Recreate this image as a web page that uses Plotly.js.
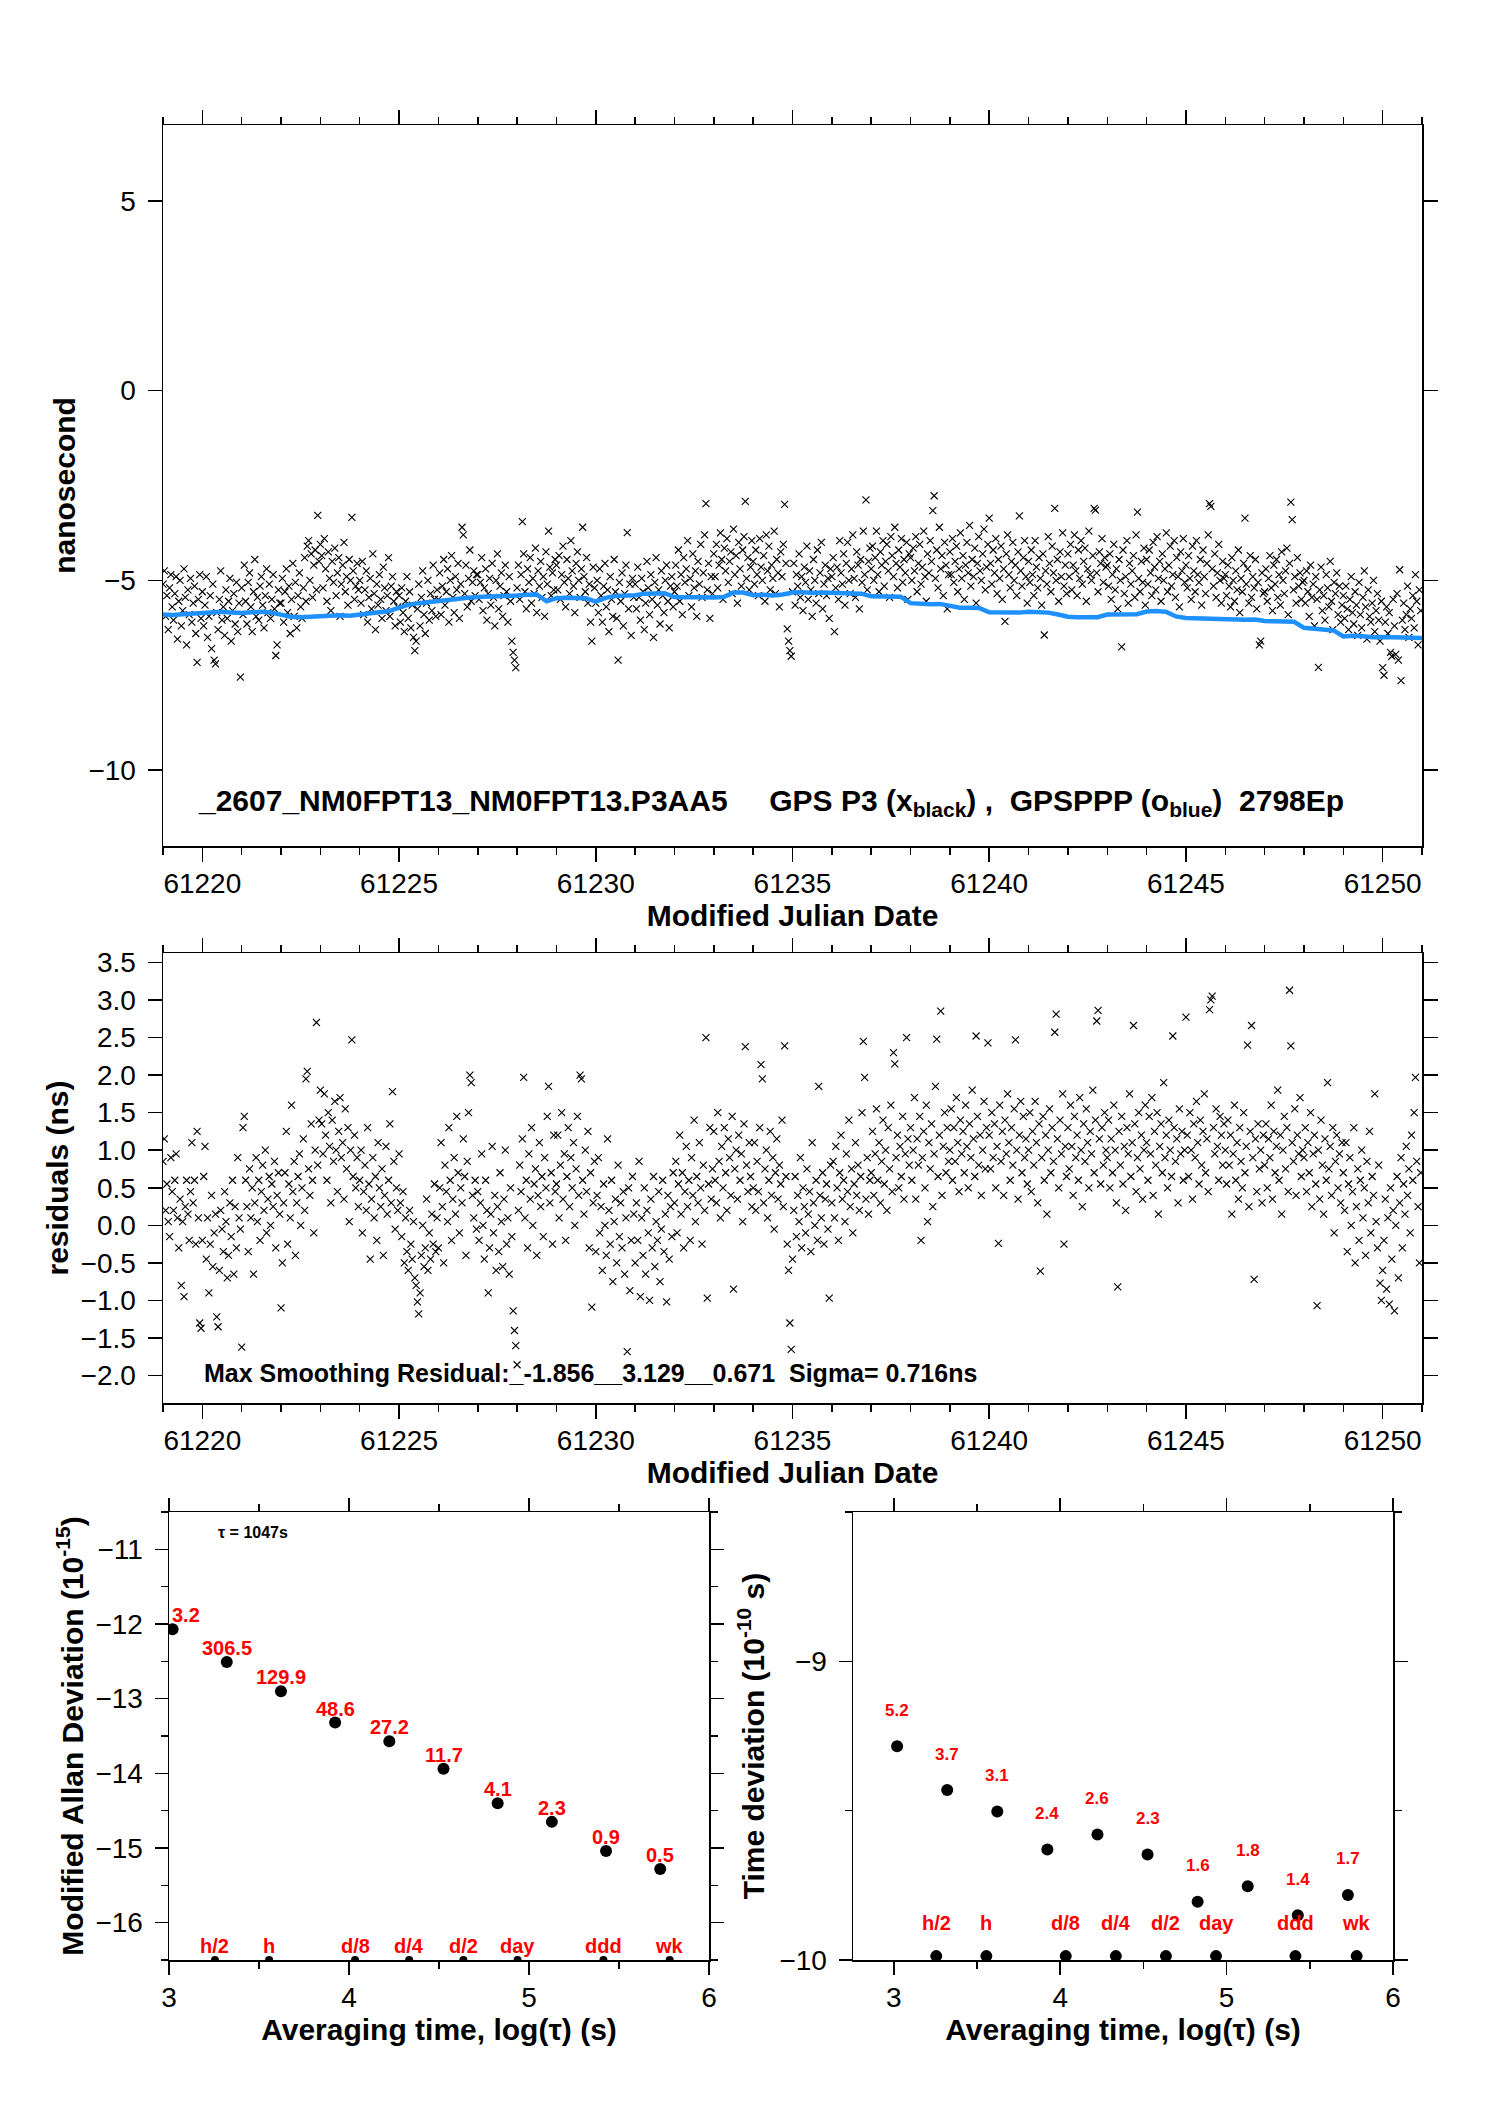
<!DOCTYPE html>
<html>
<head>
<meta charset="utf-8">
<script src="https://cdn.plot.ly/plotly-3.0.1.min.js"></script>
<style>
  body { margin: 0; background: #fff; }
  #chart { width: 1488px; height: 2105px; }
</style>
</head>
<body>
<div id="chart"></div>
<script>
// ---- time series (one line per day, 30 samples a day) ----
var mjdStart = 61219.0;
var perDay = 30;

// GPS P3 clock offsets, ns (black x)
var gpsP3 = [
  -5.1, -4.75, -5.95, -5.4, -6.3, -5.2, -4.85, -5.7, -6.05, -5.35, -4.9, -6.55, -5.55, -5.0, -6.2, -5.8, -4.7, -5.45, -6.7, -5.25, -5.9, -4.95, -6.1, -5.6, -5.15, -6.4, -7.16, -5.5, -4.85, -6.0,
  -5.3, -6.2, -5.65, -4.9, -6.5, -5.95, -5.4, -6.8, -5.1, -7.1, -7.2, -5.85, -6.3, -5.5, -4.75, -6.05, -5.7, -6.45, -5.25, -6.0, -5.55, -4.95, -6.6, -5.8, -5.35, -6.15, -5.05, -6.35, -5.6, -7.55,
  -5.2, -5.9, -4.6, -5.55, -6.15, -5.05, -4.8, -5.7, -6.35, -5.3, -4.45, -5.95, -5.45, -6.05, -5.15, -4.9, -5.65, -6.25, -5.4, -4.7, -5.85, -5.1, -6.0, -5.5, -4.85, -5.75, -6.98, -6.7, -5.25, -5.6,
  -5.6, -4.95, -6.1, -5.3, -4.7, -5.85, -5.15, -6.4, -5.5, -4.55, -5.95, -5.05, -6.25, -5.4, -4.8, -5.7, -6.0, -5.2, -4.4, -5.55, -4.1, -3.95, -5.0, -4.3, -5.45, -4.6, -4.2, -5.25, -3.29, -4.5,
  -4.05, -4.35, -5.2, -3.9, -4.7, -5.55, -4.25, -4.95, -5.8, -4.5, -5.05, -4.15, -5.4, -4.8, -4.4, -5.95, -5.1, -4.6, -4.0, -5.3, -4.9, -5.65, -4.45, -5.0, -3.34, -4.75, -5.5, -5.15, -4.55, -5.25,
  -5.0, -5.6, -4.5, -5.9, -5.25, -4.75, -6.1, -5.45, -4.95, -5.75, -4.3, -5.35, -6.3, -5.1, -5.65, -4.85, -5.5, -6.0, -4.65, -5.2, -5.8, -5.4, -4.4, -5.95, -5.15, -4.9, -5.55, -6.2, -5.3, -5.7,
  -5.4, -6.1, -5.2, -5.85, -6.35, -5.55, -4.9, -6.0, -5.3, -6.25, -5.65, -6.5, -6.85, -6.6, -5.75, -5.1, -6.2, -5.45, -4.75, -5.9, -6.4, -5.6, -5.0, -6.05, -5.35, -5.8, -4.6, -5.5, -5.95, -5.25,
  -5.5, -4.8, -5.9, -5.15, -4.45, -5.65, -5.3, -4.7, -6.1, -5.0, -4.35, -5.45, -5.85, -4.9, -5.25, -4.55, -6.0, -5.1, -3.6, -3.8, -5.35, -4.6, -5.7, -4.95, -4.2, -5.55, -5.05, -4.75, -5.4, -4.85,
  -4.85, -5.5, -5.05, -4.4, -5.8, -5.2, -4.7, -6.05, -5.35, -4.95, -5.65, -4.55, -5.45, -6.2, -5.0, -4.3, -5.75, -5.15, -4.8, -5.95, -5.4, -4.6, -5.3, -6.1, -4.9, -5.55, -6.6, -6.9, -7.1, -7.3,
  -5.2, -4.6, -5.5, -4.85, -3.45, -4.3, -5.3, -5.75, -4.7, -5.05, -4.4, -5.6, -4.95, -5.35, -4.15, -5.85, -4.75, -5.15, -4.5, -5.45, -4.9, -5.95, -4.25, -5.1, -3.7, -4.65, -5.4, -4.8, -5.25, -4.45,
  -4.6, -5.25, -4.35, -5.5, -4.85, -4.1, -5.05, -5.7, -4.45, -4.95, -5.35, -3.95, -4.75, -5.15, -5.85, -4.55, -4.25, -5.0, -5.45, -4.7, -3.6, -4.9, -5.3, -4.4, -5.6, -5.1, -6.1, -6.6, -4.65, -5.2,
  -5.6, -5.0, -5.85, -4.7, -5.4, -6.1, -5.15, -4.55, -5.7, -5.25, -6.35, -4.9, -5.5, -5.95, -4.45, -5.3, -6.0, -7.1, -5.05, -5.55, -4.8, -6.2, -5.35, -4.6, -3.74, -5.75, -5.1, -6.45, -4.95, -5.45,
  -5.1, -5.75, -4.65, -5.45, -6.05, -4.95, -5.3, -6.3, -5.6, -4.5, -5.2, -5.9, -4.85, -5.5, -6.5, -5.05, -4.4, -5.65, -5.25, -6.15, -4.75, -5.4, -5.85, -5.0, -4.6, -5.55, -6.25, -5.15, -4.9, -5.7,
  -5.3, -4.6, -5.15, -4.2, -5.55, -4.85, -5.9, -4.4, -5.05, -4.7, -3.95, -5.4, -4.95, -5.7, -4.3, -5.2, -4.75, -5.95, -4.5, -5.1, -4.05, -5.45, -4.8, -3.8, -2.98, -5.25, -4.55, -6.0, -4.9, -5.35,
  -4.3, -4.9, -4.05, -5.2, -4.6, -3.75, -4.45, -5.5, -4.15, -4.75, -3.9, -5.05, -4.5, -4.25, -5.35, -3.65, -4.85, -4.35, -5.6, -4.0, -4.7, -5.15, -4.2, -3.85, -2.92, -4.95, -4.4, -5.25, -4.65, -3.95,
  -4.5, -5.1, -4.2, -4.85, -5.4, -3.9, -4.65, -5.0, -4.35, -5.55, -3.8, -4.75, -4.1, -5.25, -4.6, -4.95, -3.7, -5.35, -4.45, -4.8, -5.7, -4.25, -4.9, -4.05, -3.0, -4.55, -6.28, -6.6, -6.85, -7.0,
  -5.3, -4.55, -5.65, -4.85, -5.15, -4.3, -5.45, -4.9, -5.8, -4.65, -5.05, -4.1, -5.5, -4.75, -5.25, -5.95, -4.45, -5.0, -5.6, -4.2, -5.35, -4.8, -4.0, -5.75, -5.1, -4.6, -5.4, -4.95, -6.0, -4.7,
  -4.9, -4.4, -6.35, -5.2, -4.65, -5.5, -3.95, -4.8, -5.1, -4.3, -5.65, -4.55, -4.0, -5.0, -5.35, -4.7, -3.8, -4.95, -5.45, -4.25, -4.6, -5.75, -4.45, -5.05, -3.7, -4.85, -2.88, -5.25, -4.5, -4.15,
  -4.7, -4.1, -5.0, -4.4, -3.7, -4.85, -5.3, -4.25, -4.6, -3.95, -5.15, -4.5, -4.05, -4.75, -5.45, -3.85, -4.35, -4.9, -3.6, -4.55, -5.2, -4.2, -4.65, -3.9, -5.05, -4.45, -4.8, -4.0, -5.5, -4.3,
  -4.4, -5.0, -4.15, -4.75, -3.85, -5.3, -4.55, -4.05, -5.1, -4.65, -3.7, -4.9, -5.55, -4.3, -4.8, -3.95, -4.5, -3.16, -2.77, -4.95, -4.2, -5.2, -3.6, -4.7, -4.35, -5.4, -4.0, -4.6, -5.75, -4.85,
  -4.25, -4.85, -3.9, -5.05, -4.5, -4.1, -5.3, -4.7, -3.75, -4.95, -4.35, -5.5, -4.6, -4.0, -4.8, -3.55, -5.15, -4.45, -4.9, -4.15, -5.6, -4.55, -3.85, -4.75, -5.0, -4.3, -3.65, -5.25, -4.65, -4.05,
  -3.36, -4.55, -5.1, -4.2, -4.8, -3.9, -5.35, -4.45, -4.95, -4.1, -5.5, -4.7, -6.08, -4.3, -3.8, -4.85, -5.2, -4.5, -4.0, -5.0, -4.6, -5.4, -4.25, -3.3, -4.75, -5.15, -4.4, -3.95, -4.9, -5.6,
  -4.5, -5.05, -4.2, -4.85, -5.4, -3.95, -4.65, -5.2, -4.4, -4.95, -5.65, -4.3, -6.44, -4.75, -5.1, -3.85, -4.55, -5.3, -4.1, -4.8, -3.1, -5.0, -4.45, -5.55, -4.25, -4.9, -3.75, -5.15, -4.6, -5.35,
  -4.3, -4.9, -4.05, -5.25, -4.6, -3.8, -4.75, -5.4, -4.2, -4.95, -3.95, -5.1, -4.5, -4.15, -5.55, -4.7, -3.7, -4.85, -5.0, -4.35, -3.1, -3.15, -4.8, -5.3, -4.25, -4.55, -3.9, -5.05, -4.4, -4.65,
  -4.6, -5.15, -4.3, -5.5, -4.85, -4.05, -5.25, -4.7, -5.75, -4.45, -5.0, -6.75, -4.2, -5.35, -4.9, -3.95, -5.6, -4.55, -5.1, -4.75, -4.35, -5.45, -3.8, -3.2, -4.95, -5.3, -4.5, -5.05, -4.15, -5.65,
  -4.45, -5.1, -4.2, -4.8, -5.4, -4.0, -4.65, -5.25, -3.85, -4.95, -4.5, -5.55, -4.3, -5.0, -4.7, -3.75, -5.3, -4.6, -4.1, -5.15, -4.85, -3.95, -5.45, -4.4, -4.9, -5.7, -4.25, -4.75, -3.9, -5.05,
  -4.6, -5.2, -4.35, -4.95, -5.5, -4.1, -4.75, -5.3, -3.95, -4.85, -5.05, -4.45, -5.65, -4.2, -4.9, -5.35, -4.55, -3.8, -2.98, -3.05, -4.7, -5.15, -4.3, -5.45, -4.8, -4.05, -5.0, -5.6, -4.5, -4.95,
  -4.85, -5.4, -4.6, -5.15, -5.7, -4.4, -5.0, -5.55, -4.75, -5.25, -4.2, -5.85, -4.95, -5.3, -4.55, -3.36, -5.1, -4.7, -5.6, -4.35, -5.45, -4.9, -5.2, -4.45, -5.75, -5.05, -6.7, -6.6, -4.8, -5.35,
  -5.3, -4.7, -5.55, -4.95, -4.35, -5.2, -5.8, -4.6, -5.1, -4.45, -5.45, -4.85, -5.65, -4.25, -5.0, -5.35, -4.75, -4.15, -5.9, -4.55, -2.94, -3.4, -5.25, -4.9, -5.6, -4.4, -5.15, -4.8, -5.5, -5.05,
  -5.0, -5.6, -4.75, -5.3, -5.95, -4.6, -5.45, -5.1, -6.2, -4.9, -5.5, -7.29, -5.25, -4.65, -5.8, -5.4, -6.05, -4.85, -5.2, -5.7, -4.5, -5.55, -6.3, -5.05, -5.35, -4.8, -5.9, -5.15, -6.1, -5.65,
  -5.4, -6.0, -5.15, -5.75, -6.3, -5.5, -4.9, -5.85, -6.15, -5.3, -5.65, -6.45, -5.05, -5.9, -6.25, -5.45, -4.75, -5.7, -6.55, -5.25, -5.95, -6.1, -5.6, -5.0, -6.35, -5.8, -5.35, -6.05, -6.6, -5.55,
  -7.3, -7.5, -6.1, -5.7, -6.4, -5.85, -6.9, -7.0, -5.5, -6.2, -6.95, -5.35, -7.1, -4.72, -7.64, -6.05, -5.6, -6.3, -5.9, -5.15, -6.5, -5.75, -6.0, -5.4, -6.25, -4.85, -5.55, -6.7, -5.25, -5.8
];

// smoothing residuals, ns (same epochs)
var residuals = [
  0.85, 1.15, 0.2, 0.55, 0.05, -0.15, 0.9, 0.45, 0.2, 0.6, 0.95, 0.1, -0.3, 0.35, -0.8, 0.05, -0.95, 0.25, 0.6, 0.15, -0.2, 0.45, 1.1, 0.3, 0.6, -0.25, 1.25, 0.1, -1.3, -1.37,
  -0.2, 0.65, 1.05, -0.45, 0.1, -0.9, -0.25, 0.4, -0.55, -0.1, 0.15, -1.22, -1.35, -0.6, 0.2, -0.05, -0.35, 0.45, 0.05, -0.7, -0.4, 0.3, -0.15, 0.6, -0.65, 0.25, -0.3, 0.9, 0.1, -0.05,
  -1.62, 1.3, 1.45, 0.6, 0.25, -0.35, 0.75, 0.1, 0.5, -0.65, 0.3, 0.9, 0.05, 0.6, -0.2, 0.45, 0.8, 0.2, 1.0, -0.1, 0.35, 0.65, 0.0, 0.55, 0.25, 0.85, -0.3, 0.4, 0.7, 0.15,
  -1.1, -0.5, 0.3, 0.7, 1.25, -0.25, 0.55, 0.1, 1.6, 0.45, 0.85, -0.4, 0.3, 0.65, 0.95, 0.0, 0.5, 1.15, 0.2, 1.95, 2.05, 0.75, 0.4, 1.35, 0.6, -0.1, 1.0, 2.7, 0.8, 1.4,
  1.8, 1.35, 0.95, 1.75, 1.2, 0.6, 1.5, 1.05, 0.3, 1.4, 0.85, 1.65, 1.0, 0.45, 1.25, 1.7, 0.9, 1.1, 0.35, 1.55, 0.75, 1.3, 0.05, 1.0, 2.47, 0.65, 1.2, 0.5, 0.9, 0.25,
  0.6, 1.0, -0.1, 0.45, 0.8, 0.2, 1.3, 0.55, -0.45, 0.35, 0.9, 0.1, 0.65, -0.2, 1.1, 0.5, 0.25, 0.75, -0.4, 0.4, 1.05, 0.15, 0.6, 1.35, 0.3, 1.78, 0.85, -0.05, 0.5, 0.2,
  0.95, 0.3, -0.15, 0.45, -0.5, 0.1, -0.35, -0.6, 0.2, -0.25, -0.45, 0.05, -0.7, -0.8, -1.02, -1.18, -0.9, -0.4, 0.0, -0.55, -0.3, 0.35, -0.6, -0.1, -0.45, 0.15, -0.25, 0.55, -0.35, 0.1,
  -0.3, 0.5, 1.1, 0.25, -0.5, 0.8, 0.45, 0.05, 1.3, 0.6, -0.2, 0.35, 0.9, 0.15, 1.45, 0.7, -0.1, 0.5, 0.3, 1.15, 0.65, -0.4, 0.85, 1.5, 2.0, 1.9, 0.4, 0.1, 0.6, -0.05,
  0.45, -0.2, 0.3, 0.95, 0.0, -0.45, 0.6, 0.2, -0.9, -0.3, 0.15, 1.05, -0.1, 0.4, -0.6, 0.25, -0.35, 0.7, 0.05, -0.55, 0.35, 1.0, -0.25, 0.1, -0.65, 0.5, -0.15, -1.14, -1.4, -1.6,
  -1.856, 0.2, 0.8, 0.45, 1.15, 1.97, 0.1, 0.6, -0.3, 0.95, 0.35, 1.3, 0.0, 0.55, 0.75, -0.4, 0.4, 1.1, 0.25, 0.65, -0.15, 0.9, 0.5, 1.45, 1.85, 0.3, 0.7, -0.25, 1.2, 0.45,
  0.55, 1.2, 0.1, 0.8, 1.5, 0.35, 0.95, -0.2, 0.65, 1.3, 0.25, 0.9, 0.5, 1.1, 0.0, 0.75, 1.45, 0.4, 2.0, 1.95, 0.6, 0.15, 1.0, 0.45, 1.25, -0.3, 0.7, -1.09, 0.3, 0.85,
  -0.35, 0.4, 0.9, -0.1, 0.25, -0.6, 0.55, 0.0, -0.4, 1.15, 0.2, -0.25, 0.6, -0.75, 0.05, 0.35, -0.5, 0.8, -0.15, 0.3, -0.3, 0.45, -0.65, 0.1, -1.68, 0.5, -0.87, -0.2, 0.65, 0.15,
  -0.5, 0.3, -0.2, 0.85, -0.95, 0.1, -0.4, 0.5, -0.65, 0.2, -0.1, -1.0, 0.35, -0.3, 0.65, -0.55, 0.05, -0.2, 0.45, -0.75, -0.05, 0.6, -0.35, 0.15, -1.02, 0.4, -0.45, 0.25, -0.15, 0.7,
  0.3, 0.85, -0.1, 0.55, 1.2, 0.15, 0.7, -0.3, 0.45, 1.05, 0.25, 0.6, -0.2, 0.9, 0.4, 1.4, 0.05, 0.65, 0.3, 1.1, 0.5, -0.25, 0.8, 0.2, 2.5, -0.97, 0.55, 1.3, 0.35, 0.75,
  1.25, 0.6, 0.3, 1.5, 0.85, 0.1, 1.05, 0.5, 1.3, 0.7, 0.2, 1.15, 0.9, 0.4, 1.45, -0.85, 0.75, 1.0, 0.35, 1.2, 0.6, 0.95, 0.05, 1.35, 2.38, 0.8, 0.45, 1.1, 0.65, 0.25,
  0.5, 1.1, 0.2, 0.85, 0.45, 1.3, 2.14, 1.95, 0.3, 0.75, 1.0, 0.1, 0.6, 1.25, 0.4, 0.9, -0.05, 0.7, 1.15, 0.35, 0.8, 0.55, 1.4, 0.25, 2.39, 0.65, -0.25, -0.6, -1.3, -1.65,
  -0.45, 0.2, 0.65, -0.15, 0.4, 0.05, 0.9, -0.3, 0.5, 0.25, -0.1, 0.75, 0.15, 0.45, -0.35, 1.1, 0.3, 0.0, 0.6, -0.2, 1.85, 0.4, 0.1, 0.7, -0.25, 0.35, 0.55, -0.05, -0.97, 0.8,
  0.3, 0.85, 0.1, 1.05, 0.5, -0.2, 0.7, 1.2, 0.35, 0.6, 0.05, 0.95, 0.45, 1.4, 0.25, 0.75, -0.1, 0.55, 1.1, 0.4, 0.8, 0.2, 0.65, 1.5, 2.45, 1.97, 0.35, 0.9, 0.15, 0.6,
  0.7, 1.25, 0.4, 0.95, 1.55, 0.6, 1.1, 0.3, 0.85, 1.4, 0.55, 1.0, 0.2, 1.3, 0.75, 1.6, 0.45, 2.3, 2.15, 0.9, 1.2, 0.5, 1.05, 0.65, 1.45, 0.35, 0.95, 2.5, 1.15, 0.8,
  1.3, 0.6, 1.0, 1.7, 0.35, 1.15, 0.8, 1.45, -0.2, 0.9, 1.25, 0.5, 1.6, 0.05, 1.1, 0.75, 1.35, 0.25, 0.95, 1.85, 2.48, 0.65, 1.2, 2.85, 0.4, 1.05, 1.5, 0.7, 1.3, 0.85,
  1.0, 1.55, 0.6, 1.3, 0.85, 1.7, 1.1, 0.45, 1.4, 0.95, 1.25, 0.7, 1.6, 1.05, 0.5, 1.35, 0.9, 1.8, 1.15, 0.65, 2.52, 1.45, 0.8, 1.2, 0.4, 1.0, 1.65, 0.75, 1.3, 2.43,
  1.2, 0.75, 1.5, 0.9, 1.35, 0.5, 1.05, -0.24, 1.6, 0.85, 1.25, 0.4, 1.4, 0.95, 1.75, 1.1, 0.6, 1.3, 0.8, 1.55, 2.47, 1.0, 0.35, 1.2, 1.65, 0.7, 1.45, 0.9, 1.15, 0.55,
  1.0, 1.5, 0.45, 1.25, 0.8, 1.65, 1.1, 0.3, 1.35, -0.61, 0.9, 1.45, 0.6, 1.2, 0.15, 1.0, 1.55, 0.7, 1.3, 0.85, 2.57, 2.81, 1.15, 0.5, 1.4, 0.95, 1.75, -0.25, 1.05, 0.65,
  1.3, 0.75, 1.6, 1.05, 0.4, 1.45, 0.9, 1.2, 0.6, 1.7, 1.0, 0.25, 1.35, 0.85, 1.55, 1.1, 0.5, 1.25, 0.95, 1.8, 0.7, 1.4, 2.72, 2.86, 1.15, 0.55, 1.3, 0.8, 1.5, 1.0,
  0.9, 1.4, 0.5, 1.15, 0.7, 1.6, 1.0, 0.3, -0.82, 1.25, 0.8, 1.45, 0.55, 1.05, 0.2, 1.3, 0.95, 1.75, 0.65, 1.1, 2.66, 1.35, 0.45, 0.9, 1.5, 0.75, 1.2, 0.35, 1.0, 1.6,
  1.1, 0.6, 1.45, 0.95, 1.7, 0.4, 1.25, 0.8, 1.5, 0.15, 1.05, 1.35, 0.7, 1.9, 0.9, 1.2, 0.5, 1.4, 1.0, 0.65, 2.52, 1.3, 0.85, 1.15, 0.3, 1.55, 0.95, 1.25, 0.6, 1.0,
  2.77, 1.2, 0.65, 1.5, 1.0, 0.35, 1.35, 0.9, 1.65, 1.1, 0.55, 1.4, 0.8, 1.25, 1.75, 0.7, 1.15, 0.45, 2.87, 3.0, 3.05, 1.3, 0.95, 1.55, 1.05, 0.6, 1.45, 1.2, 0.8, 1.35,
  1.0, 0.55, 1.4, 0.8, 1.2, 0.15, 0.95, 1.6, 0.6, 1.1, 0.35, 1.3, 0.85, 0.5, 1.5, 0.7, 1.05, 2.4, 0.25, 1.25, 2.66, 0.9, -0.72, 1.15, 0.45, 1.35, 0.75, 1.0, 0.3, 1.2,
  0.8, 1.35, 0.5, 1.15, 0.9, 1.6, 0.35, 1.25, 0.7, 1.05, 1.8, 0.6, 1.2, 0.15, 1.0, 1.45, 0.75, 1.3, 0.45, 3.129, 2.39, 1.1, 0.85, 1.55, 0.4, 1.2, 0.95, 1.7, 0.65, 1.0,
  0.9, 1.3, 0.45, 1.1, 0.7, 1.5, 0.25, 0.95, 1.2, 0.55, -1.07, 1.0, 0.35, 1.4, 0.8, 0.15, 1.15, 0.6, 1.9, 0.75, 1.05, 0.4, 1.3, -0.1, 0.85, 1.2, 0.5, 0.95, 0.3, 1.1,
  0.7, 0.2, 1.1, -0.35, 0.55, 0.9, 0.0, 0.45, 1.3, -0.5, 0.25, 0.75, -0.2, 0.6, 1.0, 0.1, 0.5, -0.4, 0.85, 0.3, 1.25, -0.1, 0.65, 0.4, 1.75, 0.05, -0.3, 0.8, -0.77, -1.0,
  -0.6, -0.2, 0.35, -0.85, 0.1, -1.05, 0.5, -0.45, 0.2, -1.14, 0.0, 0.65, -0.7, 0.3, 0.9, -0.3, 0.55, 0.15, 1.05, 0.4, 0.75, -0.1, 1.2, 0.6, 1.5, 1.97, 0.85, 0.25, -0.5, 0.7
];

// GPSPPP solution, ns, every 6 h (blue)
var pppStep = 0.25;
var gpsPPP = [
  -5.90, -5.91, -5.89, -5.88, -5.85, -5.84, -5.83, -5.85, -5.86, -5.84, -5.83, -5.85,
  -5.90, -5.96, -5.97, -5.96, -5.93, -5.94, -5.92, -5.93, -5.90, -5.88, -5.85, -5.81,
  -5.72, -5.64, -5.60, -5.57, -5.53, -5.50, -5.48, -5.46, -5.44, -5.43, -5.42, -5.43,
  -5.40, -5.38, -5.37, -5.55, -5.47, -5.46, -5.47, -5.47, -5.56, -5.46, -5.41, -5.40,
  -5.39, -5.35, -5.34, -5.34, -5.44, -5.45, -5.45, -5.44, -5.45, -5.44, -5.32, -5.32,
  -5.39, -5.38, -5.40, -5.37, -5.32, -5.31, -5.33, -5.32, -5.33, -5.32, -5.33, -5.35,
  -5.42, -5.43, -5.44, -5.43, -5.60, -5.62, -5.63, -5.62, -5.66, -5.72, -5.72, -5.73,
  -5.84, -5.85, -5.84, -5.85, -5.83, -5.84, -5.85, -5.90, -5.96, -5.97, -5.96, -5.97,
  -5.90, -5.89, -5.88, -5.89, -5.82, -5.81, -5.83, -5.95, -5.99, -6.00, -6.01, -6.00,
  -6.03, -6.03, -6.04, -6.03, -6.07, -6.08, -6.08, -6.09, -6.25, -6.27, -6.28, -6.32,
  -6.48, -6.46, -6.47, -6.50, -6.49, -6.50, -6.51, -6.50, -6.52
];

// ---- stability (log10 of averaging time) ----
var logTau = [3.020, 3.321, 3.622, 3.923, 4.224, 4.525, 4.826, 5.127, 5.428, 5.729];
var modAdev = [-12.07, -12.51, -12.90, -13.32, -13.57, -13.94, -14.40, -14.65, -15.04, -15.28];
var modAdevLabels = ['3.2', '306.5', '129.9', '48.6', '27.2', '11.7', '4.1', '2.3', '0.9', '0.5'];
var tdev = [-9.284, -9.431, -9.503, -9.630, -9.580, -9.647, -9.805, -9.753, -9.850, -9.782];
var tdevLabels = ['5.2', '3.7', '3.1', '2.4', '2.6', '2.3', '1.6', '1.8', '1.4', '1.7'];

var spanNames = ['h/2', 'h', 'd/8', 'd/4', 'd/2', 'day', 'ddd', 'wk'];
var spanSeconds = [1800, 3600, 10800, 21600, 43200, 86400, 259200, 604800];

// ---- build ----
var FONT = 'Liberation Sans, Arial, Helvetica, sans-serif';
var W = 1488, H = 2105;
function domX(a, b) { return [a / W, b / W]; }
function domY(top, bottom) { return [1 - bottom / H, 1 - top / H]; }

var epochs = gpsP3.map(function (v, i) { return mjdStart + i / perDay; });
var residEpochs = residuals.map(function (v, i) { return mjdStart + i / perDay; });
var pppEpochs = gpsPPP.map(function (v, i) { return mjdStart + i * pppStep; });
var spanLog = spanSeconds.map(function (s) { return Math.log10(s); });

var xMarker = { symbol: 'x-thin-open', size: 7, color: '#000', line: { color: '#000', width: 1.1 } };

var traces = [
  { x: epochs, y: gpsP3, type: 'scatter', mode: 'markers', marker: xMarker, xaxis: 'x', yaxis: 'y' },
  { x: pppEpochs, y: gpsPPP, type: 'scatter', mode: 'lines', line: { color: '#1e90ff', width: 4.5 }, xaxis: 'x', yaxis: 'y' },
  { x: residEpochs, y: residuals, type: 'scatter', mode: 'markers', marker: xMarker, xaxis: 'x2', yaxis: 'y2' },
  { x: logTau, y: modAdev, type: 'scatter', mode: 'markers', marker: { color: '#000', size: 12 }, xaxis: 'x3', yaxis: 'y3' },
  { x: spanLog, y: spanLog.map(function () { return -16.5; }), type: 'scatter', mode: 'markers',
    marker: { color: '#000', size: 8 }, cliponaxis: true, xaxis: 'x3', yaxis: 'y3' },
  { x: logTau, y: tdev, type: 'scatter', mode: 'markers', marker: { color: '#000', size: 12 }, xaxis: 'x4', yaxis: 'y4' },
  { x: spanLog, y: spanLog.map(function () { return -9.987; }), type: 'scatter', mode: 'markers',
    marker: { color: '#000', size: 12 }, cliponaxis: false, xaxis: 'x4', yaxis: 'y4' }
];

function axis(extra) {
  var base = {
    showline: true, linecolor: '#000', linewidth: 1.5, mirror: 'ticks',
    ticks: 'outside', ticklen: 14, tickwidth: 1.5, tickcolor: '#000',
    showgrid: false, zeroline: false, fixedrange: true,
    tickfont: { family: FONT, size: 28, color: '#000' },
    ticklabelstandoff: 6
  };
  return Object.assign(base, extra);
}
function minor(step) {
  return { dtick: step, ticks: 'outside', ticklen: 7, tickwidth: 1.5, tickcolor: '#000', showgrid: false };
}
function title(text, standoff) {
  return { text: text, standoff: standoff, font: { family: FONT, size: 30, color: '#000', weight: 'bold' } };
}

var annotations = [
  { xref: 'x', yref: 'y', x: 61219.85, y: -10.86, xanchor: 'left', yanchor: 'middle', showarrow: false,
    text: '_2607_NM0FPT13_NM0FPT13.P3AA5\u00a0\u00a0\u00a0\u00a0\u00a0GPS P3 (x<sub>black</sub>)\u00a0,\u00a0\u00a0GPSPPP (o<sub>blue</sub>)\u00a0\u00a02798Ep',
    font: { family: FONT, size: 30, color: '#000', weight: 'bold' } },
  { xref: 'x2', yref: 'y2', x: 61219.98, y: -1.96, xanchor: 'left', yanchor: 'middle', showarrow: false,
    text: 'Max Smoothing Residual:_-1.856__3.129__0.671\u00a0\u00a0Sigma= 0.716ns',
    font: { family: FONT, size: 25, color: '#000', weight: 'bold' } },
  { xref: 'x3', yref: 'y3', x: 3.26, y: -10.78, xanchor: 'left', yanchor: 'middle', showarrow: false,
    text: '\u03c4 = 1047s', font: { family: FONT, size: 16, color: '#000', weight: 'bold' } }
];
var red = { family: FONT, size: 20, color: '#ff0000', weight: 'bold' };
logTau.forEach(function (t, i) {
  annotations.push({ xref: 'x3', yref: 'y3', x: t, y: modAdev[i], text: modAdevLabels[i], showarrow: false,
    xanchor: i === 0 ? 'left' : 'center', xshift: i === 0 ? -3 : 0, yanchor: 'middle', yshift: 14, font: red });
  annotations.push({ xref: 'x4', yref: 'y4', x: t, y: tdev[i], text: tdevLabels[i], showarrow: false,
    yanchor: 'middle', yshift: 36, font: { family: FONT, size: 17, color: '#ff0000', weight: 'bold' } });
});
spanLog.forEach(function (t, i) {
  annotations.push({ xref: 'x3', yref: 'y3', x: t, y: -16.5, text: spanNames[i], showarrow: false,
    yanchor: 'middle', yshift: 14, font: red });
  annotations.push({ xref: 'x4', yref: 'y4', x: t, y: -10, text: spanNames[i], showarrow: false,
    yanchor: 'middle', yshift: 37, font: red });
});

var layout = {
  width: W, height: H, autosize: false,
  margin: { l: 0, r: 0, t: 0, b: 0 },
  paper_bgcolor: '#fff', plot_bgcolor: '#fff',
  showlegend: false,
  font: { family: FONT, color: '#000' },
  xaxis: axis({ domain: domX(163, 1422), anchor: 'y', range: [61219, 61251], tick0: 61220, dtick: 5,
    tickformat: 'd', ticklabelstandoff: -2, minor: minor(1), title: title('Modified Julian Date', 3) }),
  yaxis: axis({ domain: domY(125, 846), anchor: 'x', range: [-12, 7], tick0: 0, dtick: 5,
    title: title('nanosecond', 4) }),
  xaxis2: axis({ domain: domX(163, 1422), anchor: 'y2', range: [61219, 61251], tick0: 61220, dtick: 5,
    tickformat: 'd', ticklabelstandoff: -2, minor: minor(1), title: title('Modified Julian Date', 3) }),
  yaxis2: axis({ domain: domY(953, 1403), anchor: 'x2', range: [-2.365, 3.625], tick0: 0, dtick: 0.5,
    tickformat: '.1f', title: title('residuals (ns)', 3) }),
  xaxis3: axis({ domain: domX(169, 709), anchor: 'y3', range: [3, 6], tick0: 3, dtick: 1, ticklen: 13,
    ticklabelstandoff: -1, minor: minor(0.5), title: title('Averaging time, log(\u03c4) (s)', 4) }),
  yaxis3: axis({ domain: domY(1512, 1960), anchor: 'x3', range: [-16.5, -10.5], tick0: -16, dtick: 1, ticklen: 13,
    minor: minor(0.5), title: title('Modified Allan Deviation (10<sup>-15</sup>)', 3) }),
  xaxis4: axis({ domain: domX(853, 1393), anchor: 'y4', range: [2.755, 6], tick0: 3, dtick: 1, ticklen: 13,
    ticklabelstandoff: -1, minor: minor(0.5), title: title('Averaging time, log(\u03c4) (s)', 4) }),
  yaxis4: axis({ domain: domY(1512, 1960), anchor: 'x4', range: [-10, -8.5], tick0: -10, dtick: 1, ticklen: 13,
    minor: minor(0.5), title: title('Time deviation (10<sup>-10</sup> s)', 6) }),
  annotations: annotations
};

Plotly.newPlot('chart', traces, layout, { displayModeBar: false, staticPlot: true });
</script>
</body>
</html>
